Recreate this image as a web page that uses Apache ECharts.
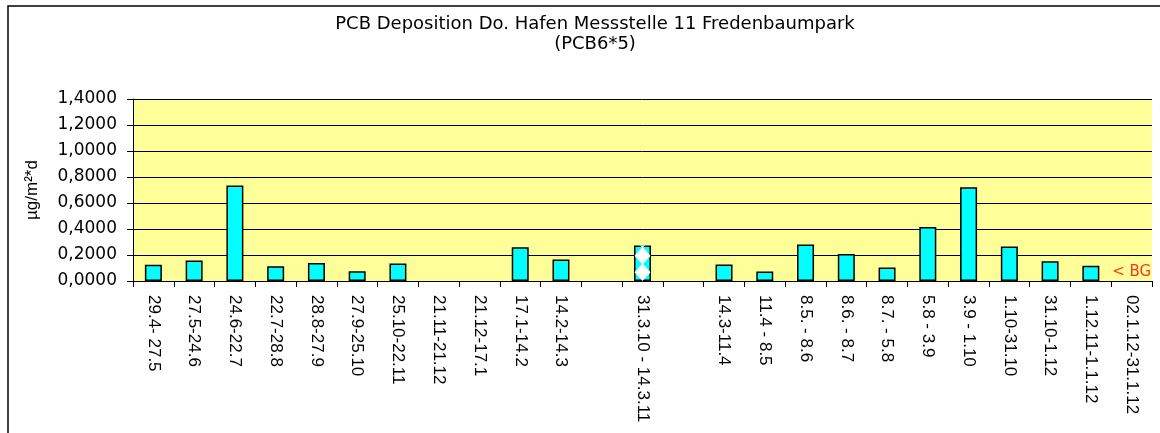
<!DOCTYPE html>
<html>
<head>
<meta charset="utf-8">
<script src="https://cdn.jsdelivr.net/npm/echarts@6/dist/echarts.min.js"></script>
<style>
  html, body { margin: 0; padding: 0; background: #fff; }
  #chart { width: 1160px; height: 433px; }
</style>
</head>
<body>
<div id="chart"></div>
<script>
// Daten ==========================================
const periods = [
    '29.4- 27.5', '27.5-24.6', '24.6-22.7', '22.7-28.8', '28.8-27.9', '27.9-25.10',
    '25.10-22.11', '21.11-21.12', '21.12-17.1', '17.1-14.2', '14.2-14.3', '',
    '31.3.10 - 14.3.11', '', '14.3-11.4', '11.4 - 8.5', '8.5. - 8.6', '8.6. - 8.7',
    '8.7. - 5.8', '5.8 - 3.9', '3.9 - 1.10', '1.10-31.10', '31.10-1.12',
    '1.12.11-1.1.12', '02.1.12-31.1.12'
];

const deposition = [
    0.125, 0.158, 0.735, 0.114, 0.138, 0.075,
    0.135, null, null, 0.260, 0.166, null,
    0.273, null, 0.127, 0.073, 0.280, 0.208,
    0.104, 0.416, 0.722, 0.265, 0.151,
    0.117, null
];

// Messperiode über ein ganzes Jahr (gemustert)
const yearPeriods = ['31.3.10 - 14.3.11'];

// Werte unter Bestimmungsgrenze
const belowLimit = ['02.1.12-31.1.12'];
const belowLimitText = '< BG';

const yTicks = { min: 0, max: 1.4, interval: 0.2 };

// Hilfsfunktionen ==========================================
function formatTick(v) {
    return v.toFixed(4).replace('.', ',');
}

// Muster (Rauten) nur für die Jahresperiode
function patternData() {
    return deposition.map(function (v, i) {
        return yearPeriods.indexOf(periods[i]) >= 0 ? v : null;
    });
}

const chart = echarts.init(document.getElementById('chart'));

const option = {
    animation: false,
    backgroundColor: '#ffffff',
    title: {
        text: 'PCB Deposition Do. Hafen Messstelle 11 Fredenbaumpark\n(PCB6*5)',
        left: 590,
        textAlign: 'center',
        top: 9,
        textStyle: {
            fontFamily: 'DejaVu Sans',
            fontSize: 18,
            fontWeight: 'normal',
            color: '#000',
            lineHeight: 20
        }
    },
    graphic: [{
        type: 'rect',
        shape: { x: 8, y: 6, width: 1200, height: 500 },
        style: { fill: 'none', stroke: '#000', lineWidth: 1.5 },
        silent: true
    }],
    grid: {
        left: 133,
        right: 8,
        top: 99,
        bottom: 152,
        show: true,
        backgroundColor: '#ffff99',
        borderWidth: 0
    },
    xAxis: {
        type: 'category',
        data: periods,
        boundaryGap: true,
        axisLine: { show: true, lineStyle: { color: '#000', width: 1 } },
        axisTick: { show: true, alignWithLabel: false, interval: 0, length: 6, lineStyle: { color: '#000' } },
        axisLabel: {
            interval: 0,
            rotate: -90,
            margin: 14,
            fontFamily: 'Liberation Sans',
            fontSize: 17,
            color: '#000'
        },
        splitLine: { show: false }
    },
    yAxis: {
        type: 'value',
        min: yTicks.min,
        max: yTicks.max,
        interval: yTicks.interval,
        name: 'µg/m²*d',
        nameLocation: 'middle',
        nameGap: 92,
        nameRotate: 90,
        nameTextStyle: {
            fontFamily: 'Liberation Sans',
            fontSize: 17,
            color: '#000'
        },
        axisLine: { show: true, lineStyle: { color: '#000', width: 1 } },
        axisTick: { show: true, length: 6, lineStyle: { color: '#000' } },
        axisLabel: {
            margin: 16,
            formatter: formatTick,
            fontFamily: 'DejaVu Sans',
            fontSize: 17,
            color: '#000'
        },
        splitLine: { show: true, lineStyle: { color: '#000', width: 1 } }
    },
    series: [{
        type: 'bar',
        data: deposition,
        barWidth: 17,
        barGap: '-100%',
        itemStyle: {
            color: '#00ffff',
            borderColor: '#000',
            borderWidth: 1.5
        }
    }, {
        type: 'pictorialBar',
        data: patternData(),
        barWidth: 17,
        barGap: '-100%',
        symbol: 'diamond',
        symbolSize: [16, 17.5],
        symbolRepeat: true,
        symbolMargin: 0,
        symbolClip: true,
        symbolPosition: 'start',
        itemStyle: { color: '#ffffff' },
        z: 3
    }, {
        type: 'scatter',
        data: belowLimit.map(function (p) { return [p, 0]; }),
        symbolSize: 0,
        label: {
            show: true,
            position: 'top',
            distance: 1,
            formatter: belowLimitText,
            fontFamily: 'DejaVu Sans',
            fontSize: 15,
            color: '#ff0000'
        }
    }]
};

chart.setOption(option);
window.addEventListener('resize', () => chart.resize());
</script>
</body>
</html>
